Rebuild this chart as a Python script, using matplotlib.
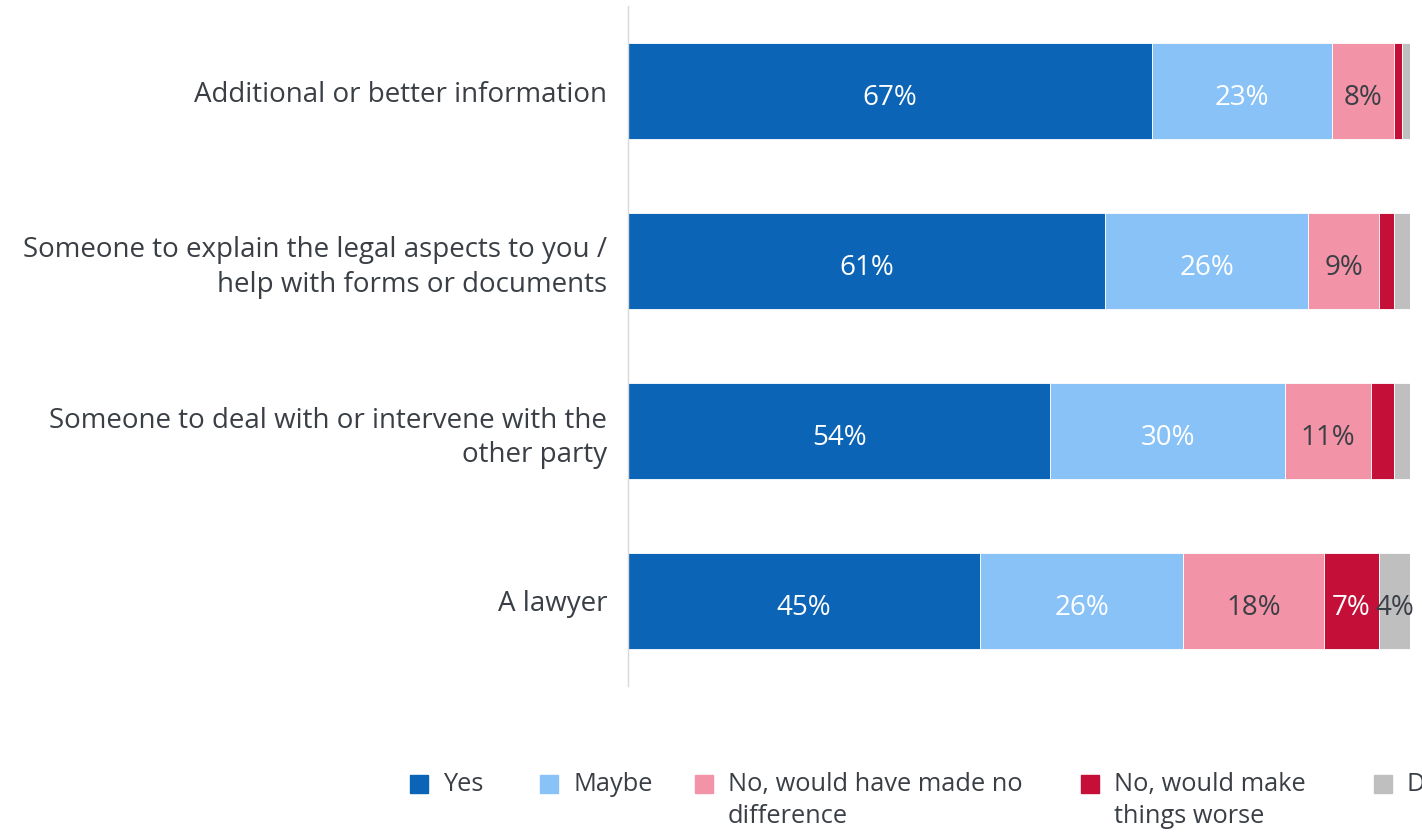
import matplotlib
matplotlib.use("Agg")
import matplotlib.pyplot as plt
from matplotlib.patches import Rectangle
import numpy as np

plt.rcParams['font.family'] = ['Open Sans', 'DejaVu Sans']

categories = [
    "Additional or better information",
    "Someone to explain the legal aspects to you /\nhelp with forms or documents",
    "Someone to deal with or intervene with the\nother party",
    "A lawyer",
]
series_names = ["Yes", "Maybe", "No, would have made no\ndifference",
                "No, would make\nthings worse", "Don't know"]
yes = [67, 61, 54, 45]
maybe = [23, 26, 30, 26]
no_diff = [8, 9, 11, 18]
worse = [1, 2, 3, 7]
dont_know = [1, 2, 2, 4]

colors = ["#0B64B5", "#89C2F7", "#F393A7", "#C41038", "#BFBFBF"]
label_colors = ["white", "white", "#3A3F45", "white", "#3A3F45"]
text_color = "#3A3F45"

fig = plt.figure(figsize=(14.22, 8.36), dpi=100)
ax = fig.add_axes([628/1422, 1-686/836, (1410-628)/1422, (686-6)/836])

data = [yes, maybe, no_diff, worse, dont_know]
y = np.arange(len(categories))
left = np.zeros(len(categories))
for vals, col, lc in zip(data, colors, label_colors):
    vals = np.array(vals, dtype=float)
    bars = ax.barh(y, vals, left=left, height=0.57, color=col,
                   edgecolor="white", linewidth=0.6)
    for b, v in zip(bars, vals):
        if v >= 4:
            ax.text(b.get_x() + b.get_width()/2, b.get_y() + b.get_height()/2 + 0.04,
                    f"{int(v)}%", ha="center", va="center", color=lc, fontsize=20)
    left += vals

ax.set_xlim(0, 100)
ax.set_ylim(3.5, -0.5)
ax.set_yticks(y)
ax.set_yticklabels(categories, fontsize=20, color=text_color, linespacing=1.3)
for lbl, off in zip(ax.get_yticklabels(), [0.035, 0.02, -0.01, 0.0]):
    pass
ax.tick_params(axis='y', length=0, pad=15)
ax.set_xticks([])
for s in ["top", "right", "bottom"]:
    ax.spines[s].set_visible(False)
ax.spines["left"].set_color("#D9D9D9")
ax.spines["left"].set_linewidth(1.0)

# legend (manual placement)
leg_x = [410, 540, 695, 1081, 1374]
for xp, name, col in zip(leg_x, series_names, colors):
    fig.add_artist(Rectangle((xp/1422, 1-793/836), 18/1422, 18/836,
                             transform=fig.transFigure, color=col))
    fig.text((xp+33)/1422, 1-772/836, name, ha="left", va="top",
             fontsize=18.3, color=text_color, linespacing=1.35)

fig.savefig("out.png", dpi=100)
